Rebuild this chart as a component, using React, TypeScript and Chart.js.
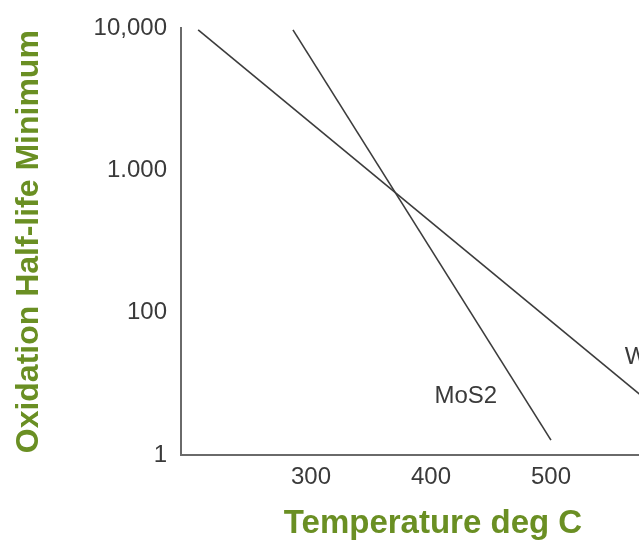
import { useEffect, useRef } from "react";
import { Chart, registerables } from "chart.js";

Chart.register(...registerables);

// Temperature axis (deg C)
const temperatureTicks = [300, 400, 500];
const temperatureMin = 191.7;
const temperatureMax = 611.7;

// Half-life axis: evenly spaced labelled positions
const halfLifeTickValues = [0, 1, 2, 3];
const halfLifeTickLabels = ["1", "100", "1.000", "10,000"];

// Series (temperature, half-life position)
const wTemps = [206, 600];
const wHalfLife = [2.99, 0.245];
const mos2Temps = [285, 500];
const mos2HalfLife = [2.99, 0.105];

// In-plot series labels
const seriesLabels = ["W", "MoS2"];
const seriesLabelTemps = [571, 429];
const seriesLabelHalfLife = [0.69, 0.41];

const GREEN = "#6a8f23";
const TEXT = "#3a3a3a";
const LINE = "#3c3c3c";
const FONT = "'Liberation Sans', Arial, sans-serif";

const seriesLabelPlugin = {
  id: "seriesLabels",
  afterDatasetsDraw(chart: any) {
    const { ctx, scales } = chart;
    const x = scales.x;
    const y = scales.y;
    ctx.save();
    ctx.font = `24px ${FONT}`;
    ctx.fillStyle = TEXT;
    ctx.textAlign = "center";
    ctx.textBaseline = "middle";
    seriesLabels.forEach((t, i) => {
      ctx.fillText(
        t,
        x.getPixelForValue(seriesLabelTemps[i]),
        y.getPixelForValue(seriesLabelHalfLife[i])
      );
    });
    ctx.restore();
  },
};

export default function App() {
  const ref = useRef<HTMLCanvasElement | null>(null);

  useEffect(() => {
    document.body.style.margin = "0";
    document.body.style.overflow = "hidden";
    document.body.style.background = "#ffffff";
    if (!ref.current) return;
    const chart = new Chart(ref.current, {
      type: "line",
      data: {
        datasets: [
          {
            label: "W",
            data: wTemps.map((t, i) => ({ x: t, y: wHalfLife[i] })),
            borderColor: LINE,
            borderWidth: 1.6,
            pointRadius: 0,
            tension: 0,
          },
          {
            label: "MoS2",
            data: mos2Temps.map((t, i) => ({ x: t, y: mos2HalfLife[i] })),
            borderColor: LINE,
            borderWidth: 1.6,
            pointRadius: 0,
            tension: 0,
          },
        ],
      },
      options: {
        responsive: false,
        animation: false,
        layout: { padding: { top: 26, left: 0, right: 0, bottom: 0 } },
        plugins: {
          legend: { display: false },
          tooltip: { enabled: false },
        },
        scales: {
          x: {
            type: "linear",
            min: temperatureMin,
            max: temperatureMax,
            afterBuildTicks: (s: any) => {
              s.ticks = temperatureTicks.map((v) => ({ value: v }));
            },
            afterFit: (s: any) => {
              s.height = 96;
            },
            grid: { display: false, drawTicks: false, tickLength: 0 },
            border: { display: true, color: "#6a6a6a", width: 2 },
            ticks: {
              color: TEXT,
              font: { family: FONT, size: 24 },
              padding: 8,
              maxRotation: 0,
              autoSkip: false,
              callback: (v: any) => String(v),
            },
            title: {
              display: true,
              text: "Temperature deg C",
              color: GREEN,
              font: { family: FONT, size: 33, weight: "bold" },
              padding: { top: 0, bottom: 7 },
            },
          },
          y: {
            type: "linear",
            min: 0,
            max: 3,
            afterBuildTicks: (s: any) => {
              s.ticks = halfLifeTickValues.map((v) => ({ value: v }));
            },
            afterFit: (s: any) => {
              s.width = 181;
            },
            grid: { display: false, drawTicks: false, tickLength: 0 },
            border: { display: true, color: "#6a6a6a", width: 2 },
            ticks: {
              color: TEXT,
              font: { family: FONT, size: 24 },
              padding: 14,
              autoSkip: false,
              callback: (v: any) =>
                halfLifeTickLabels[halfLifeTickValues.indexOf(Number(v))] ?? "",
            },
            title: {
              display: true,
              text: "Oxidation Half-life Minimum",
              color: GREEN,
              font: { family: FONT, size: 32, weight: "bold" },
              padding: { top: 10, bottom: 0 },
            },
          },
        },
      },
      plugins: [seriesLabelPlugin],
    });
    return () => chart.destroy();
  }, []);

  return (
    <canvas
      ref={ref}
      width={685}
      height={551}
      style={{ display: "block", width: 685, height: 551 }}
    />
  );
}
